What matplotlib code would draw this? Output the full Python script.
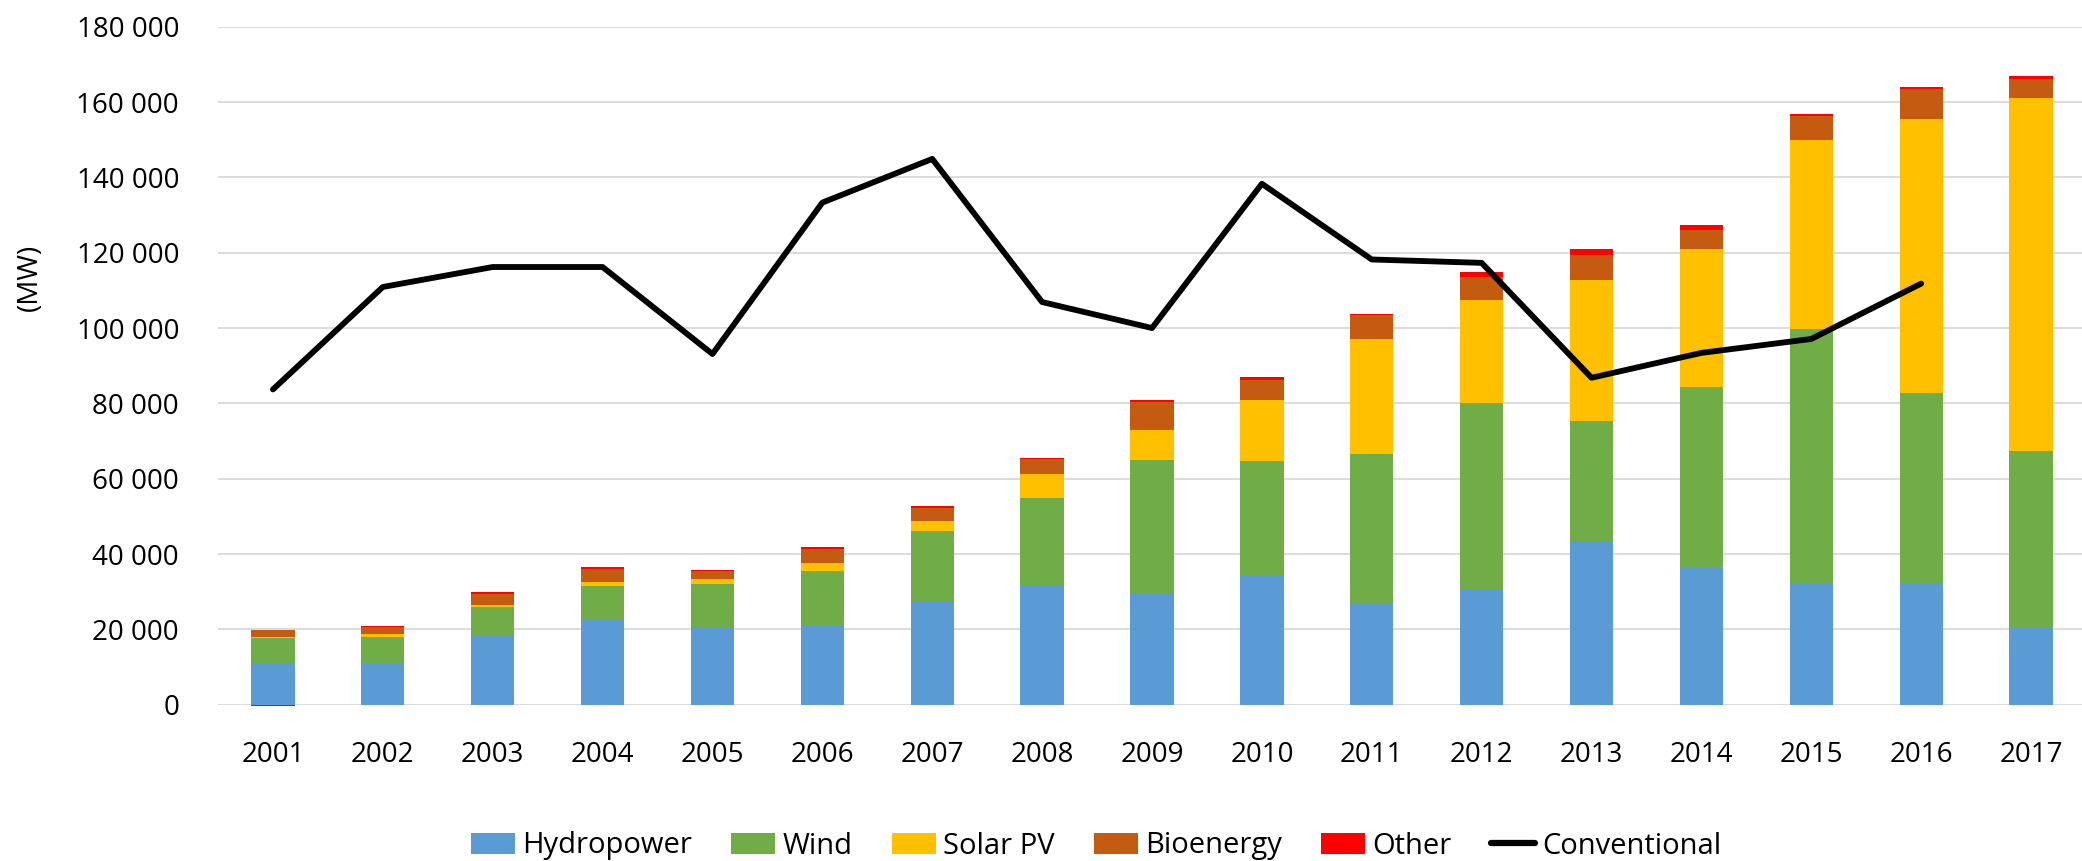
import matplotlib
matplotlib.use("Agg")
import matplotlib.pyplot as plt
from matplotlib.patches import Patch
from matplotlib.lines import Line2D
from matplotlib.ticker import FuncFormatter
import numpy as np

years = ["2001", "2002", "2003", "2004", "2005", "2006", "2007", "2008", "2009",
         "2010", "2011", "2012", "2013", "2014", "2015", "2016", "2017"]

hydropower = [11000, 11000, 18200, 22800, 20600, 21000, 27600, 31900, 29400,
              34100, 27000, 30500, 43300, 36400, 32100, 32400, 20300]
wind = [6800, 6950, 7800, 8700, 11400, 14600, 18600, 22900, 35500,
        30500, 39500, 49700, 31900, 47900, 67700, 50400, 47000]
solar_pv = [200, 750, 350, 1000, 1500, 1900, 2700, 6400, 8000,
            16200, 30500, 27200, 37600, 36700, 50000, 72700, 93800]
bioenergy = [1950, 1900, 3150, 3650, 1900, 3900, 3400, 3900, 7400,
             5400, 6400, 6100, 6700, 5100, 6400, 7900, 4900]
other = [-400, 400, 500, 400, 400, 400, 400, 350, 500,
         750, 250, 1250, 1500, 1250, 500, 600, 900]
conventional = [83700, 110900, 116200, 116200, 93100, 133300, 144900, 106900, 100000,
                138300, 118200, 117300, 86800, 93400, 97100, 111800, np.nan]

series = [("Hydropower", hydropower, "#5B9BD5"),
          ("Wind", wind, "#70AD47"),
          ("Solar PV", solar_pv, "#FFC000"),
          ("Bioenergy", bioenergy, "#C55A11"),
          ("Other", other, "#FF0000")]

plt.rcParams["font.family"] = ["Open Sans", "DejaVu Sans"]

W, H = 2082, 861
fig = plt.figure(figsize=(W / 100, H / 100), dpi=100)
ax = fig.add_axes([218 / W, 1 - 704.7 / H, 1868 / W, 678 / H])

x = np.arange(len(years))
bottom = np.zeros(len(years))
for name, vals, col in series:
    vals = np.array(vals, dtype=float)
    # negative values stack down from zero, as in the original
    b = np.where(vals >= 0, bottom, 0)
    ax.bar(x, vals, 0.394, bottom=b, color=col, linewidth=0,
           clip_on=False, zorder=3)
    bottom = bottom + np.clip(vals, 0, None)

ax.plot(x, conventional, color="black", linewidth=4.2, zorder=4,
        solid_joinstyle="round", solid_capstyle="round")

ax.set_xlim(-0.5, len(years) - 0.5)
ax.set_ylim(0, 180000)
ax.set_yticks(np.arange(0, 180001, 20000))
ax.yaxis.set_major_formatter(FuncFormatter(lambda v, p: f"{int(v):,}".replace(",", " ")))
ax.set_xticks(x)
ax.set_xticklabels(years)
ax.tick_params(axis="y", length=0, pad=28, labelsize=20)
ax.tick_params(axis="x", length=0, pad=26, labelsize=20)
ax.grid(True, axis="y", color="#D9D9D9", linewidth=1.3, zorder=0)
ax.set_axisbelow(True)
for s in ax.spines.values():
    s.set_visible(False)

fig.text(30 / W, 1 - 277 / H, "(MW)", rotation=90, ha="center", va="center", fontsize=20)

handles = [Patch(facecolor=c) for _, _, c in series]
handles.append(Line2D([0], [0], color="black", linewidth=4.5, solid_capstyle="round"))
labels = [n for n, _, _ in series] + ["Conventional"]
fig.legend(handles, labels, loc="center", bbox_to_anchor=(1096 / W, 1 - 846 / H),
           ncol=6, frameon=False, fontsize=21, handlelength=1.5, handleheight=0.72,
           handletextpad=0.25, columnspacing=1.35, borderpad=0, borderaxespad=0)

fig.savefig("out.png", dpi=100)
